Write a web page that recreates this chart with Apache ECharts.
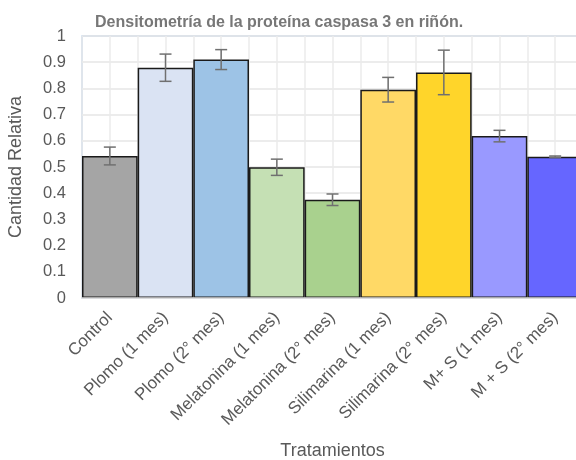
<!DOCTYPE html>
<html>
<head>
<meta charset="utf-8">
<script src="https://cdn.jsdelivr.net/npm/echarts@6/dist/echarts.min.js"></script>
<style>html,body{margin:0;padding:0;background:#fff;}#c{width:576px;height:460px;}</style>
</head>
<body>
<div id="c"></div>
<script>
var categories = ['Control', 'Plomo (1 mes)', 'Plomo (2° mes)', 'Melatonina (1 mes)', 'Melatonina (2° mes)', 'Silimarina (1 mes)', 'Silimarina (2° mes)', 'M+ S (1 mes)', 'M + S (2° mes)'];
var values = [0.542, 0.879, 0.910, 0.499, 0.375, 0.795, 0.861, 0.618, 0.539];
var errors = [0.034, 0.052, 0.038, 0.031, 0.022, 0.047, 0.085, 0.022, 0.003];
var colors = ['#a5a5a5', '#dae3f3', '#9dc3e6', '#c5e0b4', '#a9d18e', '#ffd966', '#ffd52a', '#9999ff', '#6666ff'];
var yTicks = [0, 0.1, 0.2, 0.3, 0.4, 0.5, 0.6, 0.7, 0.8, 0.9, 1];

var FONT = "'Liberation Sans', Arial, sans-serif";
var chart = echarts.init(document.getElementById('c'), null, {renderer: 'canvas'});

var option = {
  animation: false,
  backgroundColor: '#fff',
  title: {
    text: 'Densitometría de la proteína caspasa 3 en riñón.',
    left: 90, top: 10,
    textStyle: {fontFamily: FONT, fontSize: 16, fontWeight: 'bold', color: '#777777'}
  },
  grid: {
    left: 82, top: 36, right: -7, bottom: 162,
    show: true, borderColor: '#8fb8e3', borderWidth: 1.2, backgroundColor: 'transparent',
    outerBoundsMode: 'none', containLabel: false
  },
  xAxis: [{
    type: 'category',
    data: categories,
    name: 'Tratamientos',
    nameLocation: 'middle',
    nameGap: 144,
    nameTextStyle: {fontFamily: FONT, fontSize: 18, color: '#595959'},
    axisLine: {show: true, lineStyle: {color: '#d9d9d9', width: 1.5}},
    axisTick: {show: false},
    axisLabel: {rotate: 45, interval: 0, margin: 17, fontFamily: FONT, fontSize: 17, color: '#595959'},
    splitLine: {show: false},
    z: 5
  }, {
    type: 'value',
    min: 0, max: 18, interval: 1,
    position: 'bottom',
    axisLine: {show: false}, axisTick: {show: false}, axisLabel: {show: false},
    splitLine: {show: true, lineStyle: {color: '#ebebeb', width: 1.5}}
  }],
  yAxis: {
    type: 'value',
    min: 0, max: 1, interval: 0.1,
    name: 'Cantidad Relativa',
    nameLocation: 'middle',
    nameGap: 57,
    nameRotate: 90,
    nameTextStyle: {fontFamily: FONT, fontSize: 18, color: '#595959'},
    axisLine: {show: false}, axisTick: {show: false},
    axisLabel: {
      margin: 16, fontFamily: FONT, fontSize: 16.5, color: '#595959',
      formatter: function (v) {
        for (var i = 0; i < yTicks.length; i++) { if (Math.abs(yTicks[i] - v) < 1e-9) return String(yTicks[i]); }
        return '';
      }
    },
    splitLine: {show: true, lineStyle: {color: '#e6e6e6', width: 1.5}}
  },
  series: [{
    type: 'bar',
    xAxisIndex: 0,
    barCategoryGap: '0%',
    data: values.map(function (v, i) {
      return {value: v, itemStyle: {color: colors[i], borderColor: '#1a1a1a', borderWidth: 1.5}};
    }),
    z: 2
  }, {
    type: 'custom',
    xAxisIndex: 0,
    data: values.map(function (v, i) { return [i, v - errors[i], v + errors[i]]; }),
    renderItem: function (params, api) {
      var x = api.value(0);
      var lo = api.coord([x, api.value(1)]);
      var hi = api.coord([x, api.value(2)]);
      var hw = 6;
      var style = {stroke: '#707070', lineWidth: 1.5, fill: null};
      return {
        type: 'group',
        children: [
          {type: 'line', shape: {x1: hi[0], y1: hi[1], x2: lo[0], y2: lo[1]}, style: style},
          {type: 'line', shape: {x1: hi[0] - hw, y1: hi[1], x2: hi[0] + hw, y2: hi[1]}, style: style},
          {type: 'line', shape: {x1: lo[0] - hw, y1: lo[1], x2: lo[0] + hw, y2: lo[1]}, style: style}
        ]
      };
    },
    z: 10
  }]
};
chart.setOption(option);
</script>
</body>
</html>
